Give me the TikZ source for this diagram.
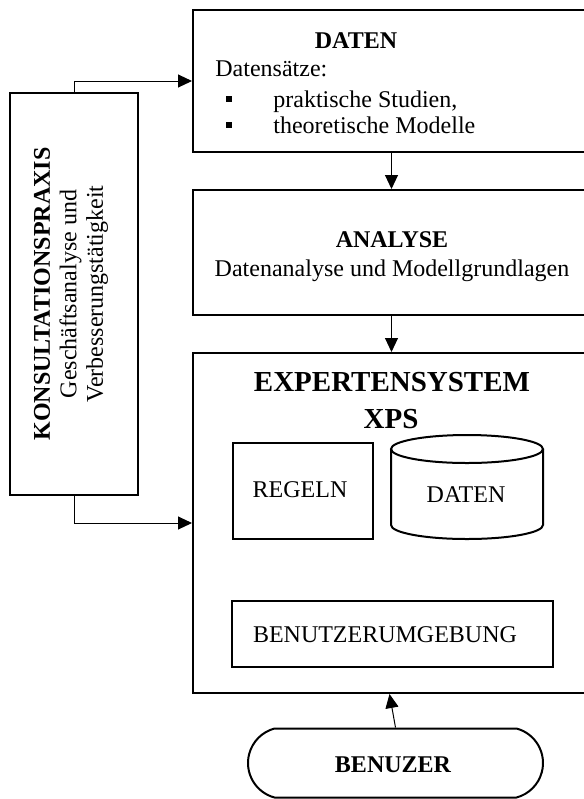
\documentclass[tikz,border=0pt]{standalone}
\usepackage{fontspec}
\setmainfont{Liberation Serif}
\usetikzlibrary{arrows.meta,shapes.misc}

\tikzset{
  box/.style={draw, line width=1pt, inner sep=0pt},
  conn/.style={-{Triangle[length=7pt,width=6.5pt]}, line width=0.5pt},
  txt/.style={anchor=base, inner sep=0pt, font=\fontsize{12}{13.3}\selectfont},
  hd/.style={txt, font=\fontsize{12}{13.3}\selectfont\bfseries},
  bullet/.style={fill, inner sep=0pt, minimum size=2.6pt},
}

\begin{document}
\begin{tikzpicture}[x=0.5pt, y=-0.5pt]
  \useasboundingbox (0,0) rectangle (584,799);

  % main column
  \node[box, minimum width=198.5pt, minimum height=71pt] (daten) at (391.5,81) {};
  \node[box, minimum width=198.5pt, minimum height=62.5pt] (analyse) at (391.5,252.5) {};
  \node[box, minimum width=198.5pt, minimum height=170pt] (xps) at (391.5,523) {};
  \node[box, minimum width=64pt, minimum height=201pt] (konsult) at (74,294) {};

  % DATEN
  \node[hd] (datenhd) at (356,48) {DATEN};
  \node[txt, anchor=base west] (datensatz) at (215,76) {Datensätze:};
  \node[bullet] (bul1) at (229,99) {};
  \node[bullet] (bul2) at (229,125) {};
  \node[txt, anchor=base west] (studien) at (273,107) {praktische Studien,};
  \node[txt, anchor=base west] (modelle) at (273,133) {theoretische Modelle};

  % ANALYSE
  \node[hd] (analysehd) at (392,247) {ANALYSE};
  \node[txt] (analysetxt) at (392,276) {Datenanalyse und Modellgrundlagen};

  % XPS
  \node[txt, font=\fontsize{14.5}{16}\selectfont\bfseries] (xpshd) at (392,391) {EXPERTENSYSTEM};
  \node[txt, font=\fontsize{14.5}{16}\selectfont\bfseries] (xpshd2) at (391,428) {XPS};
  \node[box, minimum width=70pt, minimum height=48pt] (regeln) at (303,491) {};
  \node[txt] (regelntxt) at (300,497) {REGELN};
  % cylinder
  \draw[line width=1pt] (467,449) ellipse [x radius=76, y radius=14];
  \draw[line width=1pt] (391,449) -- (391,525)
    arc[start angle=180, end angle=0, x radius=76, y radius=14] -- (543,449);
  \node[txt] (dbtxt) at (466,502) {DATEN};
  \node[box, minimum width=160.5pt, minimum height=33pt] (umgeb) at (392.5,634) {};
  \node[txt] (umgebtxt) at (385,642) {BENUTZERUMGEBUNG};

  % BENUZER
  \node[box, rounded rectangle, rounded rectangle arc length=150,
        minimum width=147.5pt, minimum height=34.5pt] (benuzer) at (395.5,763) {};
  \node[hd] (benuzertxt) at (393,772) {BENUZER};

  % KONSULTATIONSPRAXIS
  \node[rotate=90, align=center, inner sep=0pt, font=\fontsize{12}{13.3}\selectfont]
    (konsulttxt) at (71,294) {\textbf{KONSULTATIONSPRAXIS}\\Geschäftsanalyse und\\Verbesserungstätigkeit};

  % connectors
  \draw[conn] (daten.south) -- (analyse.north);
  \draw[conn] (analyse.south) -- (xps.north);
  \draw[conn] (benuzer.north) -- ([xshift=-1pt]xps.south);
  \draw[conn] (konsult.north) |- (daten.west);
  \draw[conn] (konsult.south) |- (xps.west);
\end{tikzpicture}
\end{document}
